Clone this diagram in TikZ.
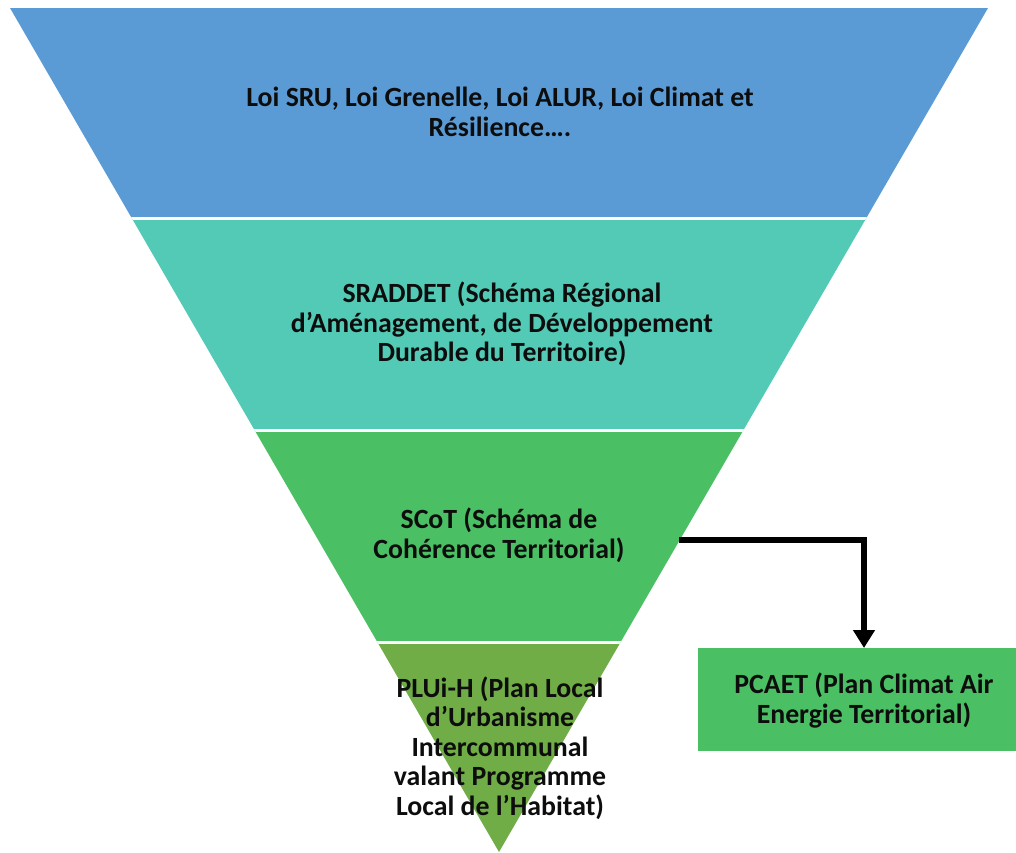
\documentclass[tikz,border=0pt]{standalone}
\usepackage{fontspec}
\setmainfont{Carlito}
\usetikzlibrary{arrows.meta}
\definecolor{cblue}{HTML}{5B9BD5}
\definecolor{cteal}{HTML}{52CAB5}
\definecolor{cgreen}{HTML}{4BBF63}
\definecolor{colive}{HTML}{70AD47}
\definecolor{ctext}{HTML}{0D0D0D}
\tikzset{
  lbl/.style={align=center, font=\fontsize{27.8}{29.6}\selectfont\bfseries, text=ctext, inner sep=0pt},
  gap/.style={white, line width=2.7pt},
  conn/.style={line width=5.5pt, -{Triangle[length=18pt,width=21pt]}},
}
\begin{document}
\begin{tikzpicture}[x=1pt,y=-1pt]
\useasboundingbox (0,0) rectangle (1016,852);
\begin{scope}
  \clip (10,8) -- (988,8) -- (499,852) -- cycle;
  \fill[cblue] (0,0) rectangle (1016,219);
  \fill[cteal] (0,219) rectangle (1016,431);
  \fill[cgreen] (0,431) rectangle (1016,642);
  \fill[colive] (0,642) rectangle (1016,860);
  \draw[gap] (0,218.8) -- (1016,218.8);
  \draw[gap] (0,430.6) -- (1016,430.6);
  \draw[gap] (0,642.2) -- (1016,642.2);
\end{scope}
\node[lbl] (loi) at (500,112) {Loi SRU, Loi Grenelle, Loi ALUR, Loi Climat et\\Résilience….};
\node[lbl] (sraddet) at (502,324) {SRADDET (Schéma Régional\\d’Aménagement, de Développement\\Durable du Territoire)};
\node[lbl] (scot) at (499,535) {SCoT (Schéma de\\Cohérence Territorial)};
\node[lbl] (pluih) at (500,748) {PLUi-H (Plan Local\\d’Urbanisme\\Intercommunal\\valant Programme\\Local de l’Habitat)};
\node[fill=cgreen, minimum width=318pt, minimum height=103pt, inner sep=0pt,
  label={[lbl, xshift=7pt, yshift=-1pt]center:PCAET (Plan Climat Air\\Energie Territorial)}] (pcaet) at (857,699.5) {};
\coordinate (scotedge) at (679,540);
\coordinate (pcaettop) at (864,648);
\draw[conn] (scotedge) -| (pcaettop);
\end{tikzpicture}
\end{document}
